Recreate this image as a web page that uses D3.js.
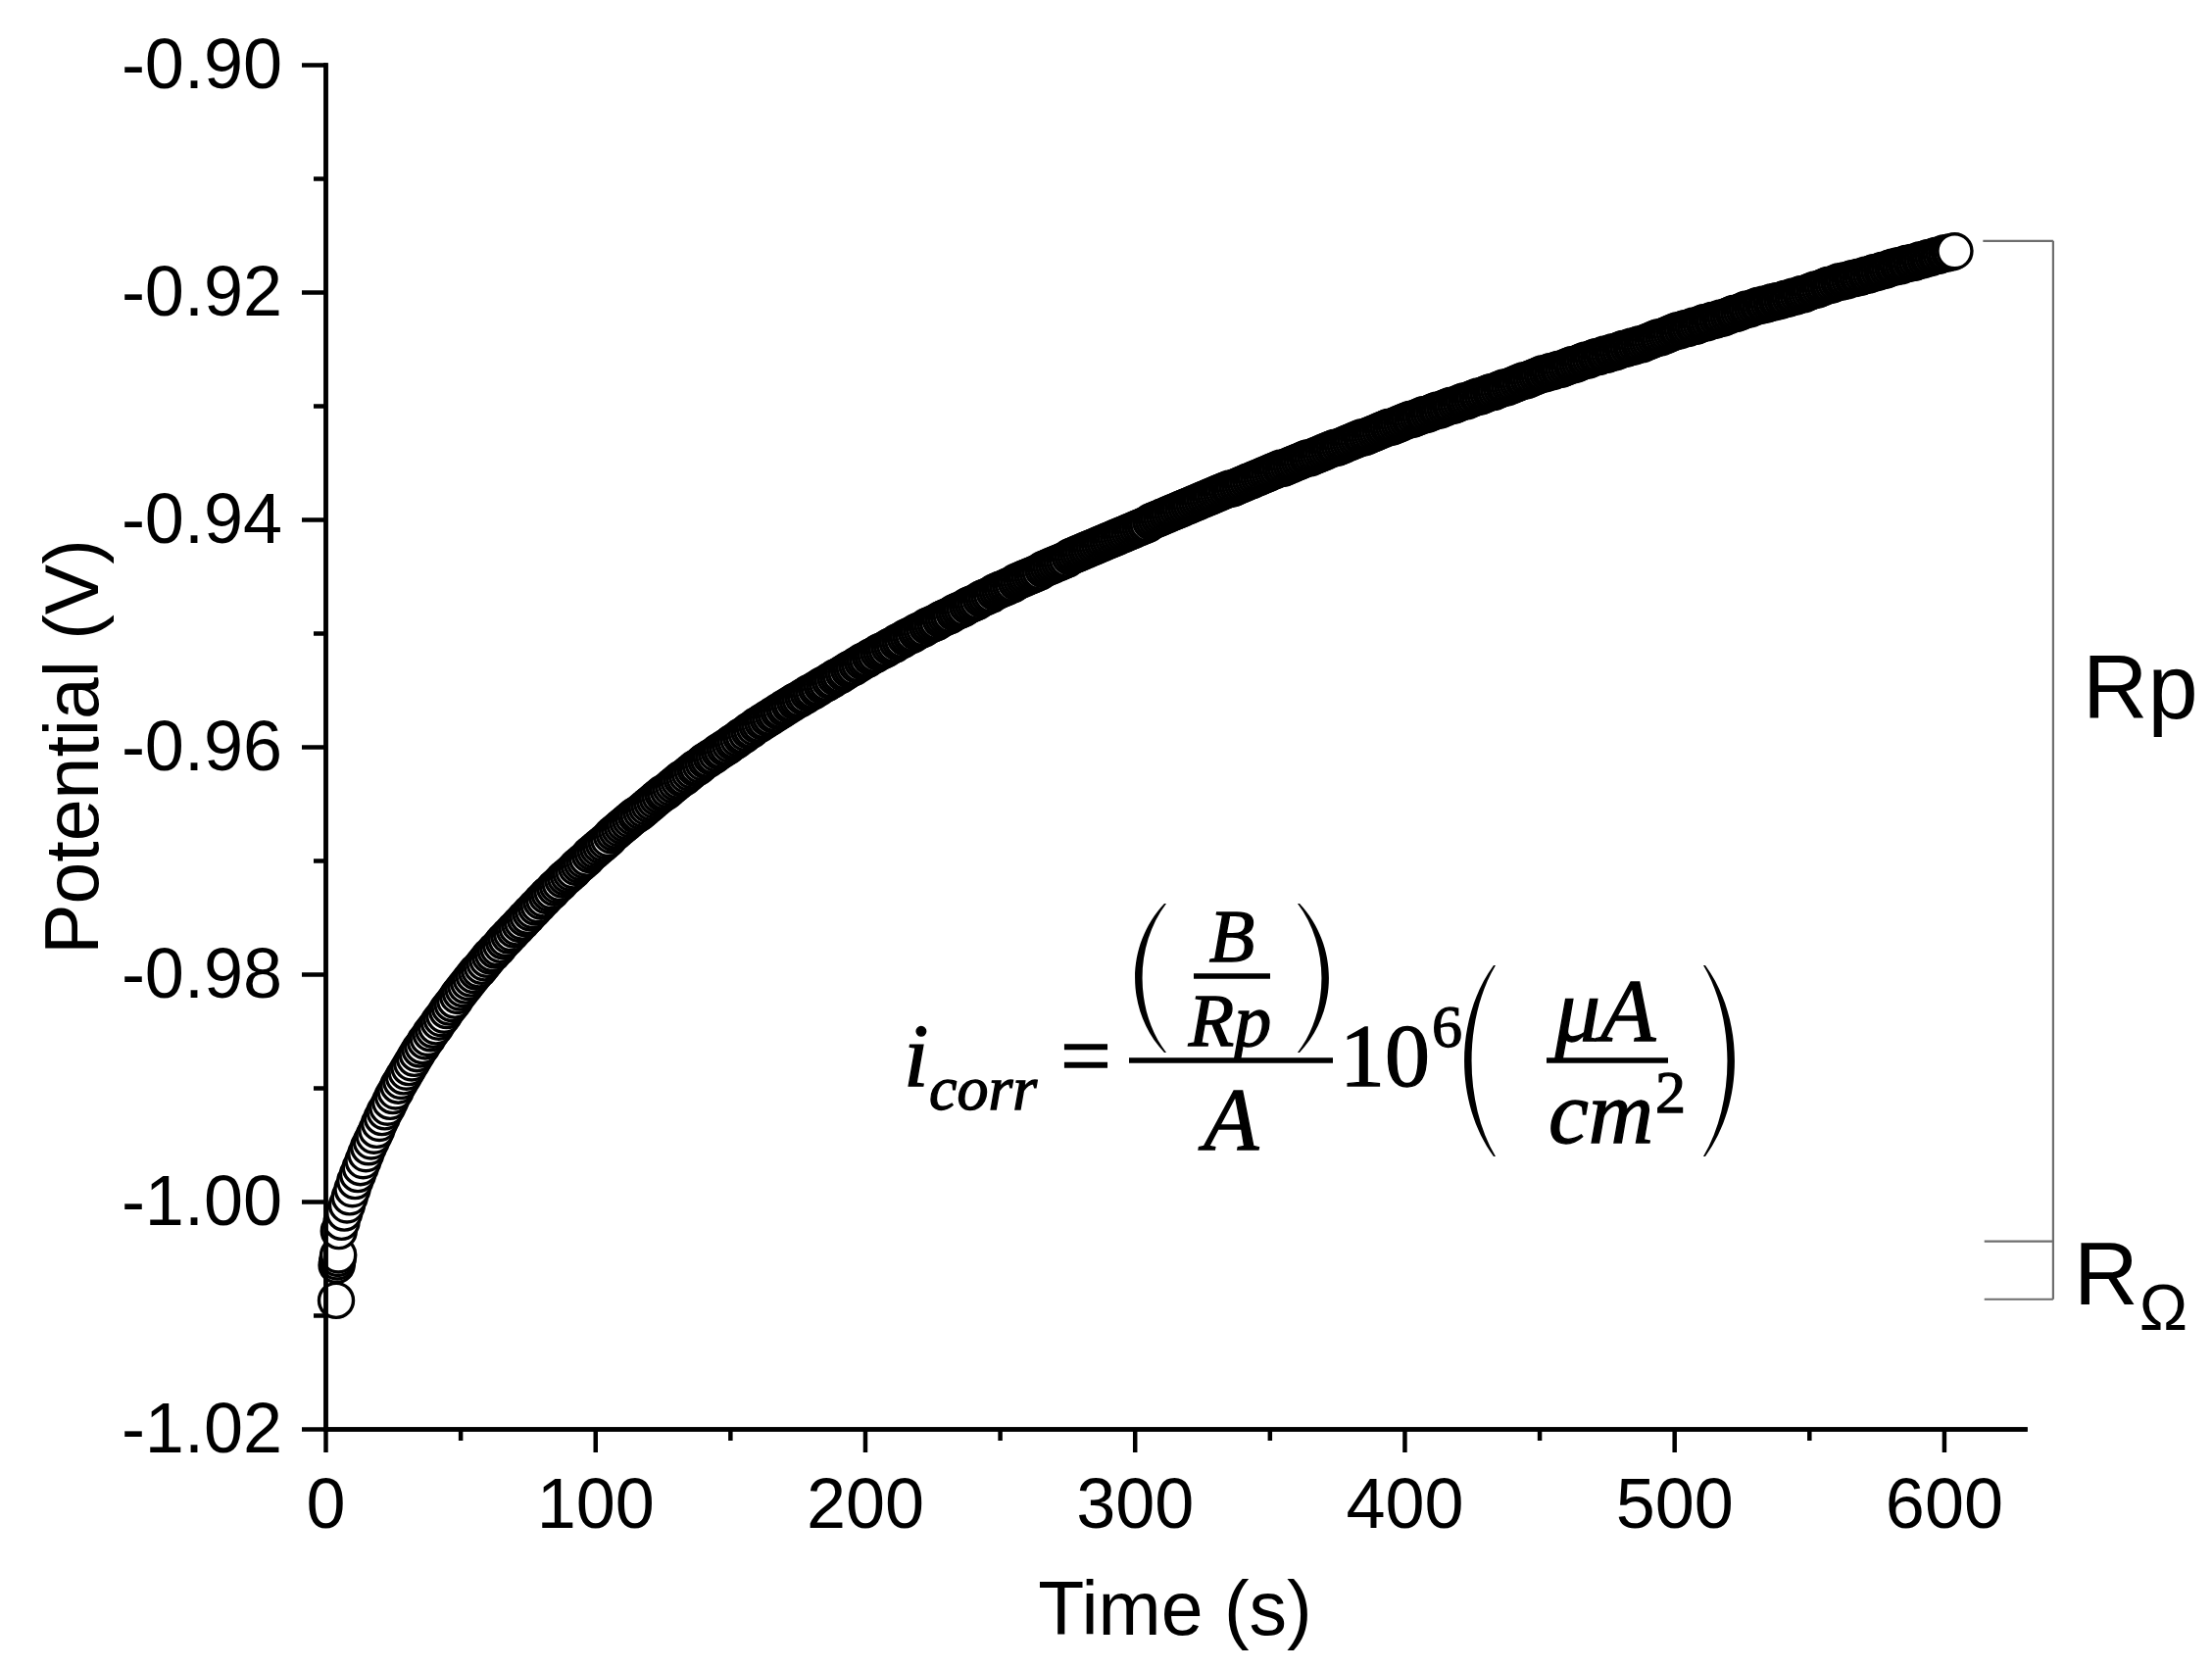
<!DOCTYPE html>
<html><head><meta charset="utf-8">
<script src="https://cdn.jsdelivr.net/npm/d3@7"></script>
<style>html,body{margin:0;padding:0;background:#fff;} svg{display:block;}</style>
</head><body>
<script>
// ---------- data ----------
const xTicksMajor = [0, 100, 200, 300, 400, 500, 600];
const xTicksMinor = [50, 150, 250, 350, 450, 550];
const yTicksMajor = [-1.02, -1.00, -0.98, -0.96, -0.94, -0.92, -0.90];
const yTicksMinor = [-1.01, -0.99, -0.97, -0.95, -0.93, -0.91];
const yTickLabels = ["-1.02", "-1.00", "-0.98", "-0.96", "-0.94", "-0.92", "-0.90"];

// first fast samples (s, V)
const startTimes = [4.0, 4.2, 4.4, 4.6, 4.8];
const startPotential = [-1.0087, -1.0056, -1.0053, -1.0050, -1.0047];

// then one sample per second, t = 5 s ... 604 s
const firstSampleTime = 5;
const sampleInterval = 1;
const potential = [
-1.0026,-1.0018,-1.0010,-1.0003,-0.9996,-0.9989,-0.9982,-0.9976,-0.9970,-0.9964,
-0.9958,-0.9952,-0.9947,-0.9942,-0.9937,-0.9931,-0.9926,-0.9921,-0.9917,-0.9912,
-0.9907,-0.9903,-0.9898,-0.9894,-0.9890,-0.9886,-0.9882,-0.9878,-0.9874,-0.9870,
-0.9866,-0.9863,-0.9859,-0.9856,-0.9852,-0.9849,-0.9846,-0.9842,-0.9839,-0.9836,
-0.9832,-0.9829,-0.9826,-0.9823,-0.9819,-0.9816,-0.9813,-0.9810,-0.9807,-0.9804,
-0.9801,-0.9798,-0.9796,-0.9793,-0.9790,-0.9787,-0.9784,-0.9782,-0.9779,-0.9777,
-0.9774,-0.9771,-0.9769,-0.9766,-0.9764,-0.9761,-0.9759,-0.9756,-0.9754,-0.9751,
-0.9749,-0.9746,-0.9744,-0.9741,-0.9739,-0.9736,-0.9734,-0.9731,-0.9729,-0.9727,
-0.9724,-0.9722,-0.9720,-0.9717,-0.9715,-0.9713,-0.9711,-0.9709,-0.9706,-0.9704,
-0.9702,-0.9700,-0.9698,-0.9695,-0.9693,-0.9691,-0.9689,-0.9687,-0.9685,-0.9683,
-0.9681,-0.9678,-0.9676,-0.9674,-0.9672,-0.9670,-0.9668,-0.9666,-0.9664,-0.9662,
-0.9660,-0.9659,-0.9657,-0.9655,-0.9653,-0.9651,-0.9649,-0.9647,-0.9645,-0.9643,
-0.9641,-0.9640,-0.9638,-0.9636,-0.9634,-0.9632,-0.9630,-0.9628,-0.9627,-0.9625,
-0.9623,-0.9621,-0.9619,-0.9618,-0.9616,-0.9614,-0.9612,-0.9611,-0.9609,-0.9608,
-0.9606,-0.9604,-0.9603,-0.9601,-0.9600,-0.9598,-0.9596,-0.9595,-0.9593,-0.9591,
-0.9590,-0.9588,-0.9586,-0.9585,-0.9583,-0.9581,-0.9580,-0.9578,-0.9577,-0.9575,
-0.9574,-0.9572,-0.9571,-0.9569,-0.9568,-0.9566,-0.9565,-0.9563,-0.9562,-0.9560,
-0.9559,-0.9558,-0.9556,-0.9555,-0.9553,-0.9552,-0.9551,-0.9549,-0.9548,-0.9546,
-0.9545,-0.9544,-0.9542,-0.9541,-0.9539,-0.9538,-0.9537,-0.9535,-0.9534,-0.9532,
-0.9531,-0.9530,-0.9528,-0.9527,-0.9525,-0.9524,-0.9523,-0.9521,-0.9520,-0.9519,
-0.9517,-0.9516,-0.9515,-0.9514,-0.9512,-0.9511,-0.9510,-0.9508,-0.9507,-0.9506,
-0.9504,-0.9503,-0.9502,-0.9501,-0.9499,-0.9498,-0.9497,-0.9496,-0.9494,-0.9493,
-0.9492,-0.9491,-0.9490,-0.9488,-0.9487,-0.9486,-0.9485,-0.9484,-0.9482,-0.9481,
-0.9480,-0.9479,-0.9478,-0.9476,-0.9475,-0.9474,-0.9473,-0.9472,-0.9470,-0.9469,
-0.9468,-0.9467,-0.9466,-0.9464,-0.9463,-0.9462,-0.9461,-0.9460,-0.9459,-0.9458,
-0.9457,-0.9455,-0.9454,-0.9453,-0.9452,-0.9451,-0.9450,-0.9449,-0.9448,-0.9447,
-0.9446,-0.9444,-0.9443,-0.9442,-0.9441,-0.9440,-0.9439,-0.9438,-0.9437,-0.9436,
-0.9435,-0.9433,-0.9432,-0.9431,-0.9430,-0.9429,-0.9428,-0.9427,-0.9426,-0.9425,
-0.9424,-0.9423,-0.9422,-0.9421,-0.9420,-0.9419,-0.9418,-0.9417,-0.9416,-0.9415,
-0.9414,-0.9413,-0.9412,-0.9411,-0.9410,-0.9409,-0.9408,-0.9407,-0.9406,-0.9405,
-0.9404,-0.9402,-0.9401,-0.9400,-0.9399,-0.9398,-0.9397,-0.9396,-0.9395,-0.9394,
-0.9393,-0.9392,-0.9391,-0.9390,-0.9389,-0.9388,-0.9387,-0.9386,-0.9385,-0.9384,
-0.9383,-0.9382,-0.9381,-0.9380,-0.9379,-0.9378,-0.9377,-0.9376,-0.9375,-0.9374,
-0.9373,-0.9373,-0.9372,-0.9371,-0.9370,-0.9369,-0.9368,-0.9367,-0.9366,-0.9365,
-0.9364,-0.9363,-0.9362,-0.9361,-0.9360,-0.9359,-0.9358,-0.9357,-0.9356,-0.9355,
-0.9355,-0.9354,-0.9353,-0.9352,-0.9351,-0.9350,-0.9349,-0.9348,-0.9347,-0.9346,
-0.9346,-0.9345,-0.9344,-0.9343,-0.9342,-0.9341,-0.9340,-0.9339,-0.9338,-0.9337,
-0.9337,-0.9336,-0.9335,-0.9334,-0.9333,-0.9332,-0.9331,-0.9330,-0.9329,-0.9328,
-0.9328,-0.9327,-0.9326,-0.9325,-0.9324,-0.9323,-0.9322,-0.9321,-0.9320,-0.9319,
-0.9319,-0.9318,-0.9317,-0.9316,-0.9315,-0.9314,-0.9313,-0.9312,-0.9312,-0.9311,
-0.9310,-0.9309,-0.9308,-0.9308,-0.9307,-0.9306,-0.9305,-0.9304,-0.9304,-0.9303,
-0.9302,-0.9301,-0.9300,-0.9300,-0.9299,-0.9298,-0.9297,-0.9296,-0.9296,-0.9295,
-0.9294,-0.9293,-0.9292,-0.9292,-0.9291,-0.9290,-0.9289,-0.9288,-0.9288,-0.9287,
-0.9286,-0.9285,-0.9284,-0.9284,-0.9283,-0.9282,-0.9281,-0.9280,-0.9279,-0.9278,
-0.9278,-0.9277,-0.9276,-0.9275,-0.9274,-0.9273,-0.9272,-0.9272,-0.9271,-0.9270,
-0.9270,-0.9269,-0.9268,-0.9268,-0.9267,-0.9266,-0.9265,-0.9264,-0.9264,-0.9263,
-0.9262,-0.9261,-0.9260,-0.9260,-0.9259,-0.9258,-0.9257,-0.9257,-0.9256,-0.9255,
-0.9255,-0.9254,-0.9253,-0.9253,-0.9252,-0.9251,-0.9250,-0.9250,-0.9249,-0.9248,
-0.9248,-0.9247,-0.9246,-0.9246,-0.9245,-0.9244,-0.9243,-0.9242,-0.9241,-0.9240,
-0.9240,-0.9239,-0.9238,-0.9237,-0.9236,-0.9235,-0.9234,-0.9234,-0.9233,-0.9232,
-0.9232,-0.9231,-0.9230,-0.9230,-0.9229,-0.9228,-0.9227,-0.9227,-0.9226,-0.9225,
-0.9225,-0.9224,-0.9223,-0.9223,-0.9222,-0.9221,-0.9220,-0.9219,-0.9219,-0.9218,
-0.9217,-0.9216,-0.9215,-0.9215,-0.9214,-0.9213,-0.9212,-0.9212,-0.9211,-0.9211,
-0.9210,-0.9209,-0.9209,-0.9208,-0.9208,-0.9207,-0.9206,-0.9206,-0.9205,-0.9204,
-0.9204,-0.9203,-0.9202,-0.9202,-0.9201,-0.9200,-0.9199,-0.9198,-0.9198,-0.9197,
-0.9196,-0.9195,-0.9194,-0.9194,-0.9193,-0.9192,-0.9191,-0.9191,-0.9190,-0.9190,
-0.9189,-0.9188,-0.9188,-0.9187,-0.9187,-0.9186,-0.9185,-0.9185,-0.9184,-0.9183,
-0.9183,-0.9182,-0.9181,-0.9181,-0.9180,-0.9179,-0.9178,-0.9178,-0.9177,-0.9177,
-0.9176,-0.9175,-0.9175,-0.9174,-0.9174,-0.9173,-0.9172,-0.9172,-0.9171,-0.9170,
-0.9170,-0.9169,-0.9168,-0.9168,-0.9167,-0.9166,-0.9166,-0.9165,-0.9165,-0.9164
];

// Rp / R_Omega bracket levels (V) and its horizontal position (s)
const bracketLevels = [-0.9155, -1.0035, -1.0086];
const bracketTickStart = [614.5, 615, 615];
const bracketLineTime = 640.5;

// ---------- layout ----------
const W = 2257, H = 1703;
const svg = d3.select("body").append("svg").attr("width", W).attr("height", H);
svg.append("rect").attr("width", W).attr("height", H).attr("fill", "#fff");

const x = d3.scaleLinear().domain([0, 630]).range([332, 2066]);
const y = d3.scaleLinear().domain([-1.02, -0.90]).range([1458, 66]);

const sans = "'Liberation Sans', Arial, Helvetica, sans-serif";
const serif = "'Liberation Serif', 'Times New Roman', serif";
const axisW = 4.5;

// points
const points = startTimes.map((t, i) => ({t, v: startPotential[i]}))
  .concat(potential.map((v, i) => ({t: firstSampleTime + i * sampleInterval, v})));

svg.append("g").selectAll("circle").data(points).join("circle")
  .attr("cx", d => x(d.t)).attr("cy", d => y(d.v)).attr("r", 17.5)
  .attr("fill", "#fff").attr("stroke", "#000").attr("stroke-width", 3.4);

// axes
function styleAxis(g) {
  g.select(".domain").attr("stroke", "#000").attr("stroke-width", axisW).attr("stroke-linecap", "square");
  g.selectAll(".tick line").attr("stroke", "#000").attr("stroke-width", axisW);
  g.selectAll(".tick text").attr("font-family", sans).attr("font-size", 72).attr("fill", "#000");
}
const yAxis = svg.append("g").attr("transform", `translate(${x(0)},0)`)
  .call(d3.axisLeft(y).tickValues(yTicksMajor).tickFormat((d, i) => yTickLabels[i])
    .tickSize(24).tickSizeOuter(0).tickPadding(20));
styleAxis(yAxis);
const yMinor = svg.append("g").attr("transform", `translate(${x(0)},0)`)
  .call(d3.axisLeft(y).tickValues(yTicksMinor).tickFormat("").tickSize(12).tickSizeOuter(0));
styleAxis(yMinor);

const xAxis = svg.append("g").attr("transform", `translate(0,${y(-1.02)})`)
  .call(d3.axisBottom(x).tickValues(xTicksMajor).tickFormat(d3.format("d"))
    .tickSize(24).tickSizeOuter(0).tickPadding(26));
styleAxis(xAxis);
const xMinor = svg.append("g").attr("transform", `translate(0,${y(-1.02)})`)
  .call(d3.axisBottom(x).tickValues(xTicksMinor).tickFormat("").tickSize(12).tickSizeOuter(0));
styleAxis(xMinor);

// axis titles
svg.append("text").attr("x", (x(0) + x(630)) / 2).attr("y", 1668)
  .attr("text-anchor", "middle").attr("font-family", sans).attr("font-size", 77).text("Time (s)");
svg.append("text").attr("transform", `translate(100,${(y(-1.02) + y(-0.90)) / 2}) rotate(-90)`)
  .attr("text-anchor", "middle").attr("font-family", sans).attr("font-size", 77).text("Potential (V)");

// bracket
const br = svg.append("g").attr("stroke", "#6e6e6e").attr("stroke-width", 2.2).attr("fill", "none");
br.append("line").attr("x1", x(bracketLineTime)).attr("x2", x(bracketLineTime))
  .attr("y1", y(bracketLevels[0])).attr("y2", y(bracketLevels[2]));
bracketLevels.forEach((lv, i) => {
  br.append("line").attr("x1", x(bracketTickStart[i])).attr("x2", x(bracketLineTime))
    .attr("y1", y(lv)).attr("y2", y(lv));
});
svg.append("text").attr("x", 2125).attr("y", 733).attr("font-family", sans).attr("font-size", 92).text("Rp");
const ro = svg.append("text").attr("x", 2116).attr("y", 1331).attr("font-family", sans).attr("font-size", 91);
ro.append("tspan").text("R");
ro.append("tspan").attr("font-size", 66).attr("dy", 26).attr("dx", 1).text("Ω");

// formula
const f = svg.append("g").attr("font-family", serif).attr("fill", "#000")
  .attr("stroke", "#000").attr("stroke-width", 1.3);
function txt(s, xx, yy, size, opts = {}) {
  return f.append("text").attr("x", xx).attr("y", yy).attr("font-size", size)
    .attr("font-style", opts.italic ? "italic" : "normal")
    .attr("text-anchor", opts.anchor || "start").text(s);
}
function bar(x1, x2, yy) {
  f.append("line").attr("x1", x1).attr("x2", x2).attr("y1", yy).attr("y2", yy)
    .attr("stroke", "#000").attr("stroke-width", 5.5);
}
function paren(xEnd, top, bottom, dir) { // dir = -1 left paren, +1 right paren
  const h = bottom - top, b = 30 * dir, t = 7 * dir;
  const cx1 = xEnd + 1.33 * b, cx2 = xEnd + 1.33 * b - t * 1.33;
  const p = `M${xEnd},${top} C${cx1},${top + 0.28 * h} ${cx1},${bottom - 0.28 * h} ${xEnd},${bottom}`
    + ` L${xEnd - 2 * dir},${bottom} C${cx2},${bottom - 0.28 * h} ${cx2},${top + 0.28 * h} ${xEnd - 2 * dir},${top} Z`;
  f.append("path").attr("d", p).attr("fill", "#000").attr("stroke", "none");
}
txt("i", 922, 1108, 92, {italic: true});
txt("corr", 948, 1132, 64, {italic: true});
txt("=", 1108, 1108, 92, {anchor: "middle"});
bar(1152, 1360, 1082);
paren(1188, 922, 1074, -1);
paren(1326, 922, 1074, 1);
txt("B", 1257, 981, 76, {italic: true, anchor: "middle"});
bar(1218, 1296, 996);
txt("Rp", 1255, 1067, 76, {italic: true, anchor: "middle"});
txt("A", 1256, 1173, 92, {italic: true, anchor: "middle"});
txt("10", 1367, 1108, 92);
txt("6", 1461, 1068, 62);
paren(1524, 985, 1180, -1);
paren(1740, 985, 1180, 1);
txt("μA", 1638, 1062, 92, {italic: true, anchor: "middle"});
bar(1578, 1702, 1082);
txt("cm", 1580, 1166, 92, {italic: true});
txt("2", 1689, 1135, 62);
</script>
</body></html>
